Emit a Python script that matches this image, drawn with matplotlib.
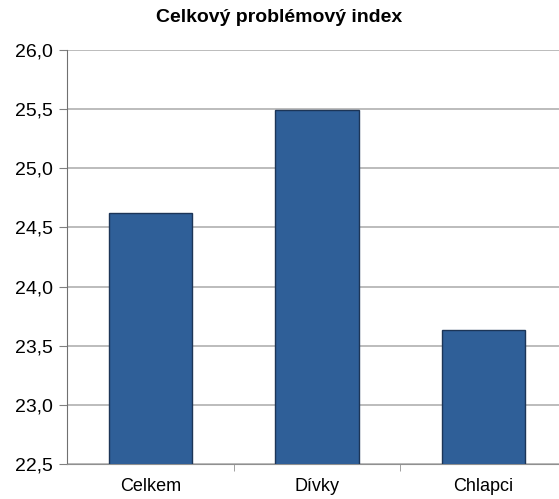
import matplotlib
matplotlib.use("Agg")
import matplotlib.pyplot as plt
from matplotlib.ticker import FuncFormatter, FixedLocator

categories = ["Celkem", "Dívky", "Chlapci"]
values = [24.62, 25.49, 23.63]
yticks = [22.5, 23.0, 23.5, 24.0, 24.5, 25.0, 25.5, 26.0]

plt.rcParams['font.family'] = ['Liberation Sans', 'DejaVu Sans']

fig = plt.figure(figsize=(5.59, 4.99), dpi=100)
ax = fig.add_axes([67/559, 35/499, 500/559, 414/499])

x = range(len(categories))
ax.bar(x, values, width=0.5, color="#2f5f98", edgecolor="#1c3557", linewidth=1, zorder=3)

ax.set_xlim(-0.5, 2.5)
ax.set_ylim(22.5, 26.0)
ax.set_yticks(yticks)
ax.yaxis.set_major_formatter(FuncFormatter(lambda v, p: f"{v:.1f}".replace(".", ",")))
ax.grid(axis="y", color="#b0b0b0", linewidth=1.2, zorder=0)

ax.set_xticks(list(x))
ax.set_xticklabels(categories)
ax.xaxis.set_minor_locator(FixedLocator([0.5, 1.5]))
ax.tick_params(axis="x", which="major", length=0, pad=10, labelsize=13)
ax.tick_params(axis="x", which="minor", length=5, color="#909090")
ax.tick_params(axis="y", length=6, color="#808080", labelsize=14, pad=4)

for s in ["top", "right"]:
    ax.spines[s].set_visible(False)
ax.spines["left"].set_color("#707070")
ax.spines["bottom"].set_color("#909090")

fig.text(0.5, 1 - 18/499, "Celkový problémový index", ha="center", va="center",
         fontsize=14, fontweight="bold")

fig.savefig("out.png", dpi=100)
